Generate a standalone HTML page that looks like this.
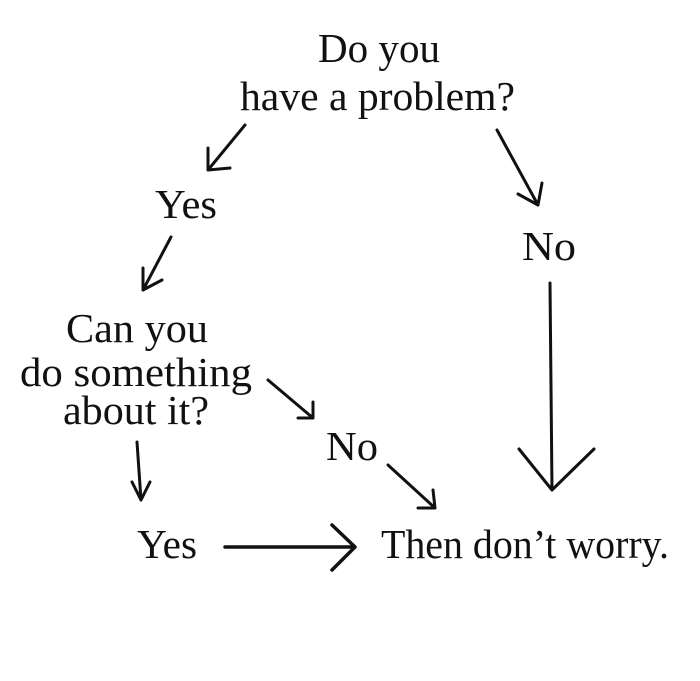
<!DOCTYPE html>
<html><head><style>html,body{margin:0;padding:0;background:#fff;width:700px;height:681px;overflow:hidden}</style></head>
<body>
<svg width="700" height="681" viewBox="0 0 700 681" xmlns="http://www.w3.org/2000/svg">
<g font-family="Liberation Serif, serif" font-size="41" fill="#111">
<text x="318" y="62" textLength="122" lengthAdjust="spacingAndGlyphs">Do you</text>
<text x="240" y="110" textLength="275" lengthAdjust="spacingAndGlyphs">have a problem?</text>
<text x="155" y="218" textLength="62" lengthAdjust="spacingAndGlyphs">Yes</text>
<text x="522" y="260" textLength="54" lengthAdjust="spacingAndGlyphs">No</text>
<text x="66" y="342" textLength="142" lengthAdjust="spacingAndGlyphs">Can you</text>
<text x="20" y="386" textLength="232" lengthAdjust="spacingAndGlyphs">do something</text>
<text x="63" y="424" textLength="146" lengthAdjust="spacingAndGlyphs">about it?</text>
<text x="326" y="460" textLength="52" lengthAdjust="spacingAndGlyphs">No</text>
<text x="137" y="558" textLength="60" lengthAdjust="spacingAndGlyphs">Yes</text>
<text x="381" y="558" textLength="288" lengthAdjust="spacingAndGlyphs">Then don’t worry.</text>
</g>
<g stroke="#111" stroke-width="3" fill="none" stroke-linecap="round" stroke-linejoin="round">
<path d="M245 125 L208 170 M208 148 L208 170 L230 168"/>
<path d="M497 130 L538 205 M518 194 L538 205 L542 183"/>
<path d="M171 237 L143 290 M143 268 L143 290 L162 280"/>
<path d="M550 283 L552 490 M519 449 L552 490 L594 449"/>
<path d="M268 380 L313 418 M298 418 L313 418 L313 402"/>
<path d="M388 465 L435 508 M418 508 L435 508 L433 490"/>
<path d="M137 442 L141 500 M132 482 L141 500 L150 482"/>
<path d="M225 547 L355 547 M332 525 L355 547 L332 570" stroke-width="3.5"/>
</g>
</svg>
</body></html>
